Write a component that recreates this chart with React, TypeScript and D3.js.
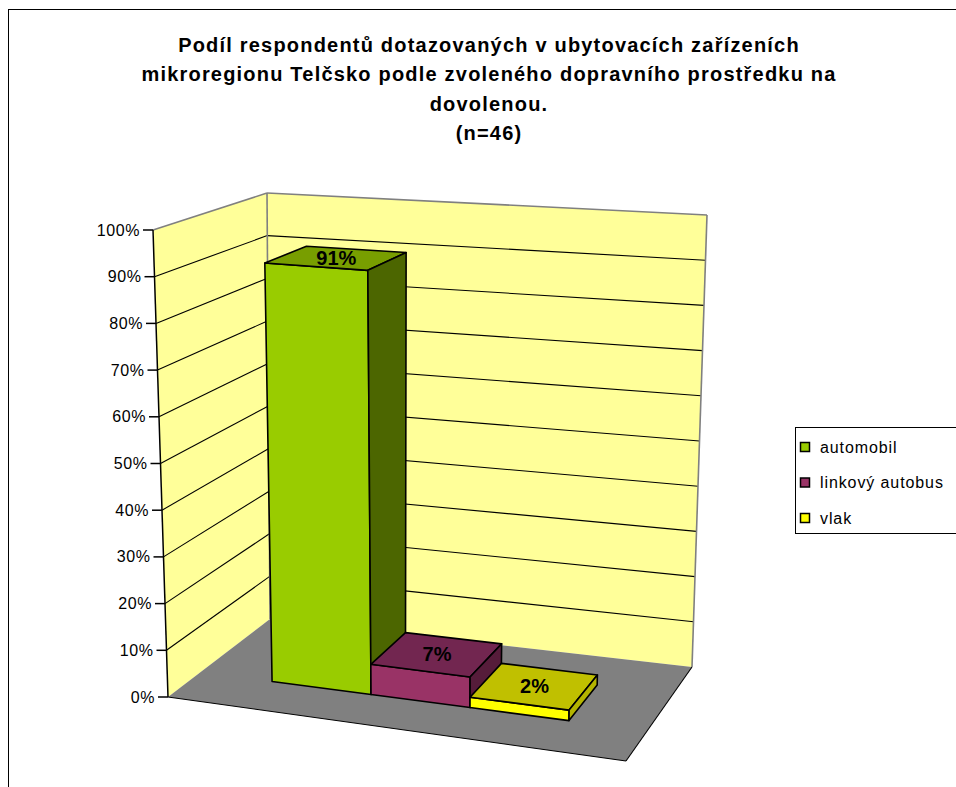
import React from "react";
import * as d3 from "d3";

// data (n=46)
const categories = ["automobil", "linkový autobus", "vlak"];
const shares = [0.913, 0.065, 0.022];
const valueLabels = ["91%", "7%", "2%"];
const frontColors = ["#99CC00", "#993366", "#FFFF00"];
const topColors = ["#789E00", "#722650", "#C0C000"];
const sideColors = ["#4C6600", "#561C3A", "#B4B400"];
const titleLines = [
  "Podíl respondentů dotazovaných v ubytovacích zařízeních",
  "mikroregionu Telčsko podle zvoleného dopravního prostředku na",
  "dovolenou.",
  "(n=46)",
];

type Pt = [number, number];

// screen corners of the 3d plot box: c[x][y][z], x across, y up, z into depth
const cube: Record<string, Pt> = {
  "000": [168, 697],
  "010": [153, 230],
  "001": [270, 619],
  "011": [267, 193],
  "100": [626, 761],
  "110": [632, 265],
  "101": [692, 667],
  "111": [707, 215],
};

const lerp = (a: Pt, b: Pt, t: number): Pt => [
  a[0] + (b[0] - a[0]) * t,
  a[1] + (b[1] - a[1]) * t,
];

// trilinear mapping of the unit cube to the picture
const project = (u: number, v: number, w: number): Pt => {
  const c = (k: string) => cube[k];
  const x00 = lerp(c("000"), c("100"), u);
  const x10 = lerp(c("010"), c("110"), u);
  const x01 = lerp(c("001"), c("101"), u);
  const x11 = lerp(c("011"), c("111"), u);
  const y0 = lerp(x00, x10, v);
  const y1 = lerp(x01, x11, v);
  return lerp(y0, y1, w);
};

const poly = d3
  .line<number[]>()
  .x((d) => d[0])
  .y((d) => d[1])
  .curve(d3.curveLinearClosed);

const face = (pts: [number, number, number][]) =>
  poly(pts.map((p) => project(p[0], p[1], p[2]))) || "";

const seg = (a: [number, number, number], b: [number, number, number]) => {
  const p = project(a[0], a[1], a[2]);
  const q = project(b[0], b[1], b[2]);
  return { x1: p[0], y1: p[1], x2: q[0], y2: q[1] };
};

const App = () => {
  const font = "Arial, 'Liberation Sans', sans-serif";
  const xBand = d3
    .scaleBand<string>()
    .domain(categories)
    .range([0.16, 0.825])
    .padding(0);
  const y = d3.scaleLinear().domain([0, 1]).range([0, 1]);
  const ticks = y.ticks(10);
  const fmt = d3.format(".0%");
  const z0 = 0.32;
  const z1 = 0.71;

  return (
    <svg
      width={956}
      height={787}
      style={{ position: "absolute", left: 0, top: 0, background: "#fff" }}
    >
      <rect x={8.5} y={9.5} width={1000} height={1000} fill="none" stroke="#000" />

      {titleLines.map((t, i) => (
        <text
          key={i}
          x={489}
          y={52 + i * 29.3}
          textAnchor="middle"
          fontFamily={font}
          fontWeight="bold"
          fontSize={20}
          letterSpacing={1.2}
        >
          {t}
        </text>
      ))}

      {/* walls and floor */}
      <path d={face([[0, 0, 0], [0, 1, 0], [0, 1, 1], [0, 0, 1]])} fill="#FFFF99" />
      <path d={face([[0, 0, 1], [0, 1, 1], [1, 1, 1], [1, 0, 1]])} fill="#FFFF99" />
      <path d={face([[0, 0, 0], [0, 0, 1], [1, 0, 1], [1, 0, 0]])} fill="#808080" />

      {ticks
        .filter((t) => t > 0 && t < 1)
        .map((t) => (
          <g key={t} stroke="#000" strokeWidth={1.1}>
            <line {...seg([0, y(t), 0], [0, y(t), 1])} />
            <line {...seg([0, y(t), 1], [1, y(t), 1])} />
          </g>
        ))}

      <g stroke="#808080" strokeWidth={1.6} fill="none">
        <line {...seg([0, 1, 0], [0, 1, 1])} />
        <line {...seg([0, 1, 1], [1, 1, 1])} />
        <line {...seg([0, 0, 1], [0, 1, 1])} />
        <line {...seg([1, 0, 1], [1, 1, 1])} />
      </g>
      <g stroke="#000" strokeWidth={1.1}>
        <line {...seg([0, 0, 0], [1, 0, 0])} />
        <line {...seg([1, 0, 0], [1, 0, 1])} />
      </g>

      {/* axis */}
      <line {...seg([0, 0, 0], [0, 1, 0])} stroke="#000" strokeWidth={1.5} />
      {ticks.map((t) => {
        const p = project(0, y(t), 0);
        return (
          <g key={t}>
            <line x1={p[0] - 10} x2={p[0]} y1={p[1]} y2={p[1]} stroke="#000" strokeWidth={1.5} />
            <text
              x={p[0] - 13}
              y={p[1] + 5.5}
              textAnchor="end"
              fontFamily={font}
              fontSize={16}
              letterSpacing={0.6}
            >
              {fmt(t)}
            </text>
          </g>
        );
      })}

      {/* bars */}
      {categories.map((c, i) => {
        const x0 = xBand(c) as number;
        const x1 = x0 + xBand.bandwidth();
        const h = y(shares[i]);
        const top = [
          project(x0, h, z0),
          project(x1, h, z0),
          project(x1, h, z1),
          project(x0, h, z1),
        ];
        const cx = d3.mean(top, (p) => p[0]) as number;
        const cy = d3.mean(top, (p) => p[1]) as number;
        return (
          <g key={c} stroke="#000" strokeWidth={1.6} strokeLinejoin="round">
            <path d={face([[x0, 0, z0], [x1, 0, z0], [x1, h, z0], [x0, h, z0]])} fill={frontColors[i]} />
            <path d={face([[x0, h, z0], [x1, h, z0], [x1, h, z1], [x0, h, z1]])} fill={topColors[i]} />
            <path d={face([[x1, 0, z0], [x1, 0, z1], [x1, h, z1], [x1, h, z0]])} fill={sideColors[i]} />
            <text
              x={cx}
              y={cy + 7}
              textAnchor="middle"
              fontFamily={font}
              fontWeight="bold"
              fontSize={20}
              stroke="none"
            >
              {valueLabels[i]}
            </text>
          </g>
        );
      })}

      {/* legend */}
      <g>
        <rect x={795.5} y={427.5} width={200} height={106} fill="#fff" stroke="#000" />
        {categories.map((c, i) => {
          const cy = 447 + i * 35.5;
          return (
            <g key={c}>
              <rect x={800.5} y={cy - 4.5} width={9} height={9} fill={frontColors[i]} stroke="#000" strokeWidth={1.5} />
              <text x={820} y={cy + 5.5} fontFamily={font} fontSize={16} letterSpacing={0.9}>
                {c}
              </text>
            </g>
          );
        })}
      </g>
    </svg>
  );
};

export default App;
